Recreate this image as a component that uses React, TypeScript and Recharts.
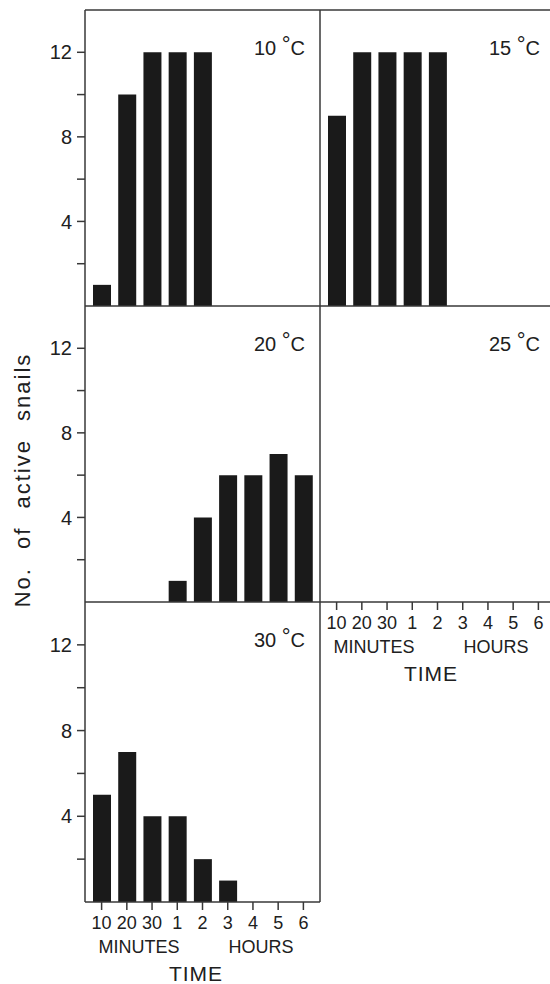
import React from 'react';
import { BarChart, Bar, XAxis, YAxis, Label } from 'recharts';

const timeLabels = ['10', '20', '30', '1', '2', '3', '4', '5', '6'];
const active10C = [1, 10, 12, 12, 12, 0, 0, 0, 0];
const active15C = [9, 12, 12, 12, 12, 0, 0, 0, 0];
const active20C = [0, 0, 0, 1, 4, 6, 6, 7, 6];
const active25C = [0, 0, 0, 0, 0, 0, 0, 0, 0];
const active30C = [5, 7, 4, 4, 2, 1, 0, 0, 0];
const yTicks = [2, 4, 6, 8, 10, 12];
const yDomain = [0, 14];
const yAxisTitle = 'No. of active snails';
const xAxisTitle = 'TIME';
const minutesLabel = 'MINUTES';
const hoursLabel = 'HOURS';

const FONT = '"Liberation Sans", Arial, Helvetica, sans-serif';
const INK = '#1a1a1a';
const LINE = '#383838';
const TEXT = '#202020';

const toData = (values: number[]) => timeLabels.map((label, i) => ({ label, v: values[i] }));

const TitleContent = (temp: string) => (props: any) => {
  const vb = props.viewBox || {};
  const x = vb.x + vb.width - 15;
  const y = vb.y + vb.height + 45;
  return (
    <text x={x} y={y} textAnchor="end" fontFamily={FONT} fontSize={20} fill={TEXT}>
      <tspan>{temp} </tspan>
      <tspan fontSize={22} dy={-3}>°</tspan>
      <tspan dy={3}>C</tspan>
    </text>
  );
};

const TimeContent = (props: any) => {
  const vb = props.viewBox || {};
  const x = vb.x;
  const y = vb.y;
  return (
    <g fontFamily={FONT} fill={TEXT}>
      <text x={x + 54} y={y + 45} textAnchor="middle" dominantBaseline="central" fontSize={18}>{minutesLabel}</text>
      <text x={x + 176} y={y + 45} textAnchor="middle" dominantBaseline="central" fontSize={18}>{hoursLabel}</text>
      <text x={x + 111} y={y + 71} textAnchor="middle" dominantBaseline="central" fontSize={21} letterSpacing={1}>{xAxisTitle}</text>
    </g>
  );
};

const YTitleContent = (props: any) => {
  const vb = props.viewBox || {};
  const cx = vb.x + 22;
  const cy = vb.y + vb.height / 2 + 26;
  return (
    <text
      x={cx}
      y={cy}
      transform={`rotate(-90 ${cx} ${cy})`}
      textAnchor="middle"
      dominantBaseline="central"
      fontFamily={FONT}
      fontSize={22}
      letterSpacing={2}
      wordSpacing={10}
      fill={TEXT}
    >
      {yAxisTitle}
    </text>
  );
};

type PanelProps = {
  values: number[];
  temp: string;
  column: 0 | 1;
  top: number;
  plotHeight: number;
  topLine?: boolean;
  xTicks?: boolean;
  yLabel?: boolean;
};

function Panel({ values, temp, column, top, plotHeight, topLine, xTicks, yLabel }: PanelProps) {
  const isLeft = column === 0;
  const xHeight = xTicks ? 82 : 4;
  const width = isLeft ? 322 : 245;
  const left = isLeft ? 0 : 315;
  const margin = isLeft ? { top: 9, right: 1, left: 0, bottom: 0 } : { top: 9, right: 5, left: 5, bottom: 0 };
  const height = 10 + plotHeight + xHeight;
  return (
    <div style={{ position: 'absolute', left, top }}>
      <BarChart width={width} height={height} data={toData(values)} margin={margin} barSize={18}>
        <XAxis
          xAxisId="b"
          dataKey="label"
          interval={0}
          height={xHeight}
          padding={{ left: 4, right: 4 }}
          axisLine={{ stroke: LINE, strokeWidth: 1.5 }}
          tickLine={xTicks ? { stroke: LINE, strokeWidth: 1.5 } : false}
          tick={xTicks ? { fontSize: 18, fill: TEXT, fontFamily: FONT } : false}
          tickSize={8}
          tickMargin={6}
        >
          {xTicks ? <Label content={TimeContent} /> : null}
        </XAxis>
        <XAxis
          xAxisId="t"
          orientation="top"
          dataKey="label"
          height={1}
          padding={{ left: 4, right: 4 }}
          axisLine={topLine ? { stroke: LINE, strokeWidth: 1.5 } : false}
          tickLine={false}
          tick={false}
        >
          <Label content={TitleContent(temp)} />
        </XAxis>
        <YAxis
          yAxisId="l"
          type="number"
          domain={yDomain}
          ticks={yTicks}
          hide={!isLeft}
          width={85}
          axisLine={{ stroke: LINE, strokeWidth: 1.5 }}
          tickLine={{ stroke: LINE, strokeWidth: 1.5 }}
          tickSize={8}
          tickMargin={5}
          tick={{ fontSize: 20, fill: TEXT, fontFamily: FONT }}
          tickFormatter={(v: number) => (v % 4 === 0 ? String(v) : '')}
        >
          {yLabel ? <Label content={YTitleContent} /> : null}
        </YAxis>
        {isLeft ? (
          <YAxis
            yAxisId="r"
            orientation="right"
            type="number"
            domain={yDomain}
            width={1}
            axisLine={{ stroke: LINE, strokeWidth: 1.5 }}
            tickLine={false}
            tick={false}
          />
        ) : null}
        <Bar dataKey="v" xAxisId="b" yAxisId="l" fill={INK} isAnimationActive={false} />
      </BarChart>
    </div>
  );
}

export default function App() {
  return (
    <div
      style={{
        position: 'absolute',
        left: 0,
        top: 0,
        width: 550,
        height: 984,
        overflow: 'hidden',
        background: '#fff',
      }}
    >
      <Panel values={active10C} temp="10" column={0} top={0} plotHeight={296} topLine />
      <Panel values={active15C} temp="15" column={1} top={0} plotHeight={296} topLine />
      <Panel values={active20C} temp="20" column={0} top={296} plotHeight={296} yLabel />
      <Panel values={active25C} temp="25" column={1} top={296} plotHeight={296} xTicks />
      <Panel values={active30C} temp="30" column={0} top={592} plotHeight={300} xTicks />
    </div>
  );
}
